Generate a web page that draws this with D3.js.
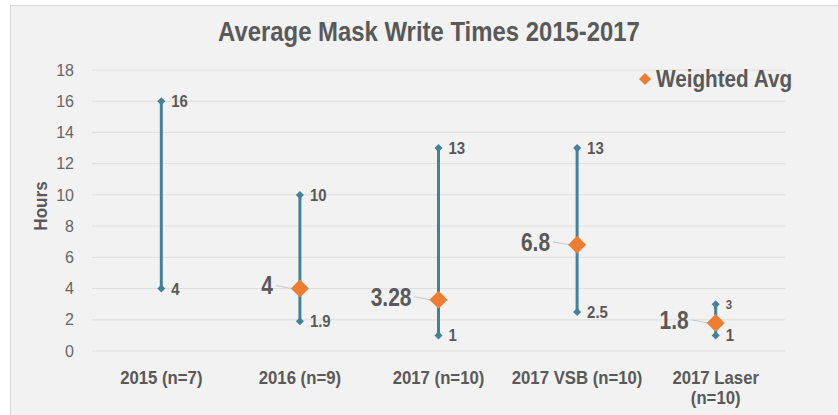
<!DOCTYPE html>
<html><head><meta charset="utf-8">
<script src="https://cdn.jsdelivr.net/npm/d3@7"></script>
<style>body{margin:0;background:#fff}svg{display:block}</style>
</head><body>
<svg id="c" width="838" height="415"></svg>
<script>
const categories = ["2015 (n=7)", "2016 (n=9)", "2017 (n=10)", "2017 VSB (n=10)", "2017 Laser (n=10)"];
const maxValues = [16, 10, 13, 13, 3];
const minValues = [4, 1.9, 1, 2.5, 1];
const avgValues = [null, 4, 3.28, 6.8, 1.8];
const yTicks = [0, 2, 4, 6, 8, 10, 12, 14, 16, 18];
const title = "Average Mask Write Times 2015-2017";
const yTitle = "Hours";
const legendLabel = "Weighted Avg";

const font = "'Liberation Sans',Arial,sans-serif";
const textCol = "#595959", lineCol = "#41819a", avgCol = "#ed7d31";
const svg = d3.select("#c");
svg.append("rect").attr("x",10.5).attr("y",5.5).attr("width",840).attr("height",420)
  .attr("fill","#f2f2f2").attr("stroke","#d9d9d9");

const x = d3.scaleBand().domain(categories).range([92, 785]);
const y = d3.scaleLinear().domain([0, 18]).range([351, 70]);

// grid
svg.append("g").selectAll("line").data(yTicks).join("line")
  .attr("x1", 92).attr("x2", 785).attr("y1", d => y(d)).attr("y2", d => y(d))
  .attr("stroke", "#dedede").attr("stroke-width", 1);

// y axis
const yAxis = svg.append("g").attr("transform", "translate(74,0)")
  .call(d3.axisLeft(y).tickValues(yTicks).tickSize(0).tickPadding(0));
yAxis.select(".domain").remove();
yAxis.selectAll("text").attr("font-family", font).attr("font-size", 16).attr("fill", "#666");

// x axis
const xAxis = svg.append("g").attr("transform", "translate(0,371)")
  .call(d3.axisBottom(x).tickSize(0).tickPadding(0));
xAxis.select(".domain").remove();
xAxis.selectAll("text").attr("font-family", font).attr("font-size", 18).attr("font-weight", "bold")
  .attr("fill", textCol).attr("dy", "0.71em")
  .attr("transform", "scale(0.93,1)")
  .each(function(d){
    const t = d3.select(this);
    if (d === "2017 Laser (n=10)") {
      t.text(null);
      t.append("tspan").attr("x",0).attr("dy","0.71em").text("2017 Laser");
      t.append("tspan").attr("x",0).attr("dy","1.15em").text("(n=10)");
    }
  });

// y title
svg.append("text").attr("transform", "translate(47,206) rotate(-90) scale(0.9,1)")
  .attr("text-anchor","middle").attr("font-family", font).attr("font-size", 19)
  .attr("font-weight","bold").attr("fill", textCol).text(yTitle);

// title
svg.append("text").attr("transform", "translate(429,41) scale(0.885,1)").attr("text-anchor","middle")
  .attr("font-family", font).attr("font-size", 27).attr("font-weight","bold")
  .attr("fill", textCol).text(title);

const cx = d => x(d) + x.bandwidth()/2;
const data = categories.map((c,i)=>({c, max:maxValues[i], min:minValues[i], avg:avgValues[i]}));

// range lines
svg.append("g").selectAll("line").data(data).join("line")
  .attr("x1", d=>cx(d.c)).attr("x2", d=>cx(d.c))
  .attr("y1", d=>y(d.max)).attr("y2", d=>y(d.min))
  .attr("stroke", lineCol).attr("stroke-width", 3);

const diamond = s => `M0,${-s}L${s},0L0,${s}L${-s},0Z`;
const ends = [];
data.forEach(d => {
  ends.push({c:d.c, v:d.max, top:true, short:(d.max-d.min)<3});
  ends.push({c:d.c, v:d.min, top:false, short:false});
});
svg.append("g").selectAll("path").data(ends).join("path")
  .attr("d", diamond(4)).attr("transform", d=>`translate(${cx(d.c)},${y(d.v)})`)
  .attr("fill", lineCol);

// end labels
svg.append("g").selectAll("text").data(ends).join("text")
  .attr("transform", d=>`translate(${cx(d.c)+10},${y(d.v)}) scale(0.88,1)`).attr("dy","0.35em")
  .attr("font-family", font).attr("font-weight","bold")
  .attr("font-size", d=> d.short ? 13 : 17).attr("fill", textCol)
  .text(d=>d.v);

// avg markers
const avgData = data.filter(d=>d.avg!==null);
svg.append("g").selectAll("line").data(avgData).join("line")
  .attr("x1", d=>cx(d.c)-24).attr("x2", d=>cx(d.c)-8)
  .attr("y1", d=>y(d.avg)-3).attr("y2", d=>y(d.avg))
  .attr("stroke","#c8c8c8").attr("stroke-width",1);
svg.append("g").selectAll("path").data(avgData).join("path")
  .attr("d", diamond(9)).attr("transform", d=>`translate(${cx(d.c)},${y(d.avg)})`)
  .attr("fill", avgCol);
svg.append("g").selectAll("text").data(avgData).join("text")
  .attr("transform", d=>`translate(${cx(d.c)-27},${y(d.avg)-3}) scale(0.84,1)`).attr("dy","0.35em")
  .attr("text-anchor","end").attr("font-family", font).attr("font-weight","bold")
  .attr("font-size", 25).attr("fill", textCol).text(d=>d.avg);

// legend
svg.append("path").attr("d", diamond(6)).attr("transform","translate(645,79)").attr("fill", avgCol);
svg.append("text").attr("transform", "translate(656,79) scale(0.9,1)").attr("dy","0.35em")
  .attr("font-family", font).attr("font-weight","bold").attr("font-size", 23)
  .attr("fill", textCol).text(legendLabel);
</script>
</body></html>
